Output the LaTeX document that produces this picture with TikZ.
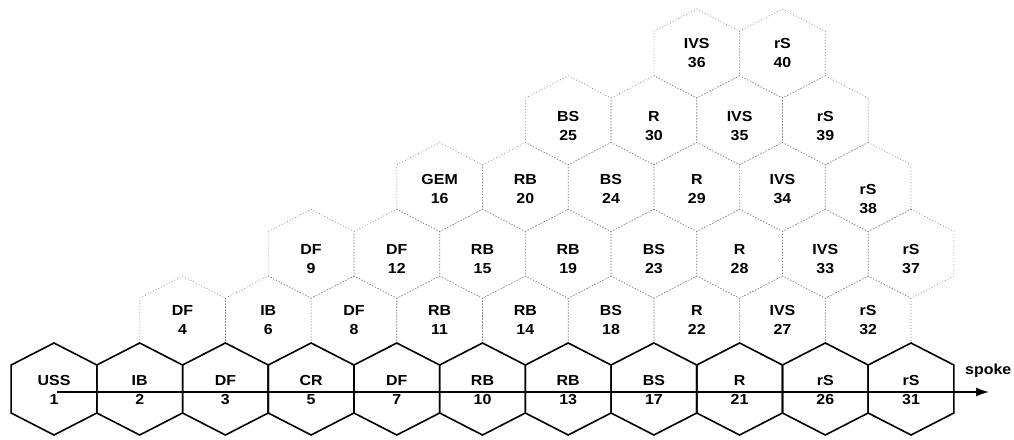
\documentclass[tikz,border=0pt]{standalone}
\usepackage{fontspec}
\newfontfamily\labfont[FakeStretch=1.1]{Liberation Sans}
\usetikzlibrary{arrows.meta}
\tikzset{
  solidhex/.style={draw=black, line width=1.6pt, line join=miter},
  dothex/.style={draw=black!50, line width=0.7pt, dash pattern=on 0.8pt off 2.2pt},
  lab/.style={align=center, font=\labfont\bfseries\fontsize{14.5}{19.5}\selectfont, inner sep=0pt},
  spokeline/.style={line width=1.4pt, -{Latex[length=13pt,width=9pt]}},
}
\def\hw{42.85}
% #1 style, #2 x, #3 y, #4 R (centre to top vertex), #5 half side
\newcommand{\hexcell}[5]{%
  \path[#1] (#2,#3-#4) -- (#2+\hw,#3-#5) -- (#2+\hw,#3+#5) -- (#2,#3+#4)
    -- (#2-\hw,#3+#5) -- (#2-\hw,#3-#5) -- cycle;}
\begin{document}
\begin{tikzpicture}[x=1pt,y=-1pt]
\useasboundingbox (0,0) rectangle (1014,439);
% upper dotted rows
\foreach \i in {1.5,2.5,...,9.5} {\hexcell{dothex}{54+85.7*\i}{320.5}{44.5}{22.25}}
\foreach \i in {3,4,...,10} {\hexcell{dothex}{54+85.7*\i}{253.75}{44.5}{22.25}}
\foreach \i in {4.5,5.5,...,9.5} {\hexcell{dothex}{54+85.7*\i}{187}{44.5}{22.25}}
\foreach \i in {6,7,8,9} {\hexcell{dothex}{54+85.7*\i}{120.25}{44.5}{22.25}}
\foreach \i in {7.5,8.5} {\hexcell{dothex}{54+85.7*\i}{53.5}{44.5}{22.25}}
% bottom solid row
\foreach \i in {0,...,10} {\hexcell{solidhex}{54+85.7*\i}{389}{46}{24}}
% labels
\foreach \i/\a/\b in {0/USS/1,1/IB/2,2/DF/3,3/CR/5,4/DF/7,5/RB/10,6/RB/13,7/BS/17,8/R/21,9/rS/26,10/rS/31}
  {\node[lab] (h\b) at (54+85.7*\i,390) {\a\\\b};}
\foreach \i/\a/\b in {1.5/DF/4,2.5/IB/6,3.5/DF/8,4.5/RB/11,5.5/RB/14,6.5/BS/18,7.5/R/22,8.5/IVS/27,9.5/rS/32}
  {\node[lab] (h\b) at (54+85.7*\i,320) {\a\\\b};}
\foreach \i/\a/\b in {3/DF/9,4/DF/12,5/RB/15,6/RB/19,7/BS/23,8/R/28,9/IVS/33,10/rS/37}
  {\node[lab] (h\b) at (54+85.7*\i,259) {\a\\\b};}
\foreach \i/\a/\b in {4.5/GEM/16,5.5/RB/20,6.5/BS/24,7.5/R/29,8.5/IVS/34}
  {\node[lab] (h\b) at (54+85.7*\i,189) {\a\\\b};}
\node[lab] (h38) at (54+85.7*9.5,199) {rS\\38};
\foreach \i/\a/\b in {6/BS/25,7/R/30,8/IVS/35,9/rS/39}
  {\node[lab] (h\b) at (54+85.7*\i,126) {\a\\\b};}
\foreach \i/\a/\b in {7.5/IVS/36,8.5/rS/40}
  {\node[lab] (h\b) at (54+85.7*\i,53) {\a\\\b};}
% spoke
\coordinate (spokestart) at (57,392);
\coordinate (spokeend) at (989,392);
\draw[spokeline] (spokestart) -- (spokeend);
\node[lab, anchor=base west] (spokelab) at (965,374) {spoke};
\end{tikzpicture}
\end{document}
